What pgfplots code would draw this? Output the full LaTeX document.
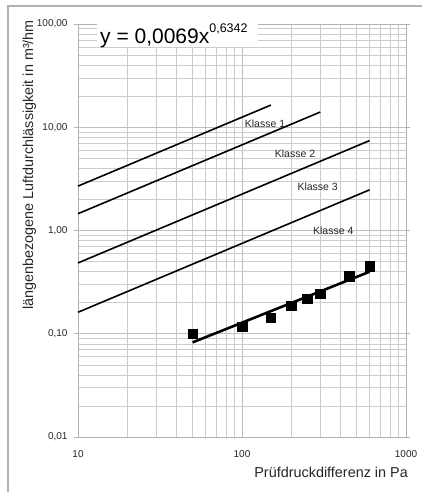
\documentclass[border=0pt]{standalone}
\usepackage{pgfplots}
\pgfplotsset{compat=1.18}
\usepackage{fontspec}
\setmainfont{Liberation Sans}
\begin{document}
\begin{tikzpicture}[x=1pt,y=1pt]
\useasboundingbox (0,0) rectangle (422,492);
\draw[gray!60, line width=1.2pt] (8,0) -- (8,486) -- (422,486);
\begin{axis}[
 at={(78pt,55pt)}, anchor=south west, scale only axis, width=328pt, height=413pt,
 xmode=log, ymode=log, xmin=10, xmax=1000, ymin=0.01, ymax=100,
 xtick={10,100,1000}, xticklabels={10,100,1000},
 ytick={0.01,0.1,1,10,100}, yticklabels={{0,01},{0,10},{1,00},{10,00},{100,00}},
 grid=both,
 major grid style={gray!50, line width=0.6pt},
 minor grid style={gray!40, line width=0.5pt},
 axis line style={gray!60, line width=0.9pt},
 tick label style={font=\fontsize{10}{12}\selectfont, text=black!85},
 xtick style={draw=none}, ytick style={gray!60, line width=0.8pt},
 tick align=outside, major tick length=4pt, minor tick length=0pt,
 yticklabel style={xshift=-3pt},
 xticklabel style={yshift=-6pt},
 clip=false,
]
\addplot[black, line width=1.6pt] coordinates {(10,2.69) (150,16.4)};
\addplot[black, line width=1.6pt] coordinates {(10,1.454) (300,14.04)};
\addplot[black, line width=1.6pt] coordinates {(10,0.485) (600,7.43)};
\addplot[black, line width=1.6pt] coordinates {(10,0.1615) (600,2.477)};
\addplot[black, line width=2.6pt] coordinates {(50,0.0825) (600,0.399)};
\addplot[only marks, mark=square*, mark size=4.7pt, black] coordinates {
 (50,0.100) (100,0.117) (150,0.143) (200,0.186) (250,0.219) (300,0.244) (450,0.362) (600,0.453)};
\node[font=\fontsize{10.5}{12}\selectfont, text=black!85] at (axis cs:138.1,10.92) {Klasse 1};
\node[font=\fontsize{10.5}{12}\selectfont, text=black!85] at (axis cs:210.5,5.51) {Klasse 2};
\node[font=\fontsize{10.5}{12}\selectfont, text=black!85] at (axis cs:289.4,2.66) {Klasse 3};
\node[font=\fontsize{10.5}{12}\selectfont, text=black!85] at (axis cs:360.3,0.996) {Klasse 4};
\end{axis}
\fill[white] (97,445) rectangle (258,473);
\node[anchor=base west, inner sep=0pt, font=\fontsize{21}{24}\selectfont, text=black] at (100,448.7) {y = 0,0069x\raisebox{11pt}{\fontsize{12.5}{14}\selectfont 0,6342}};
\node[rotate=90, anchor=base, inner sep=0pt, font=\fontsize{14.4}{16}\selectfont, text=black!85] at (33,327) {längenbezogene Luftdurchlässigkeit in m³/hm};
\node[anchor=base east, inner sep=0pt, font=\fontsize{14.4}{16}\selectfont, text=black!85] at (408,14) {Prüfdruckdifferenz in Pa};
\end{tikzpicture}
\end{document}
